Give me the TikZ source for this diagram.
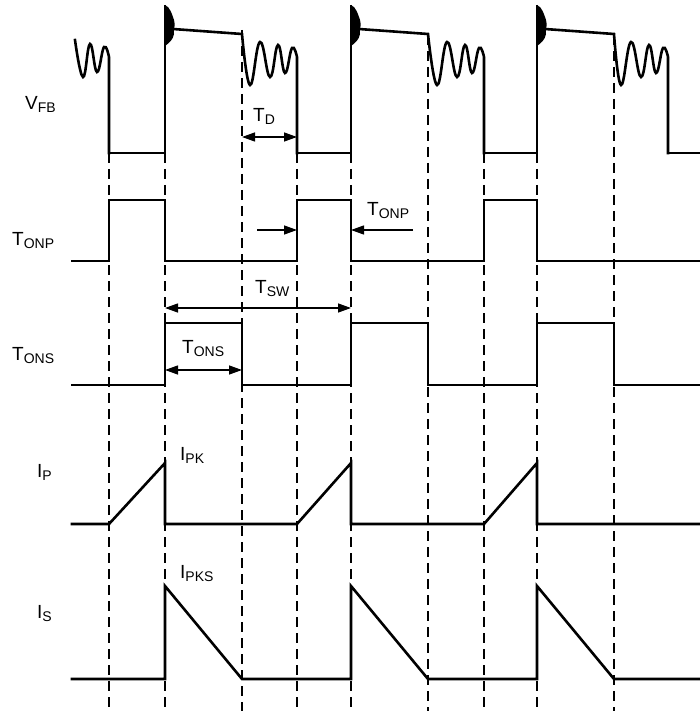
\documentclass[tikz,border=0pt]{standalone}
\usepackage{fontspec}
\setmainfont{Liberation Sans}
\usetikzlibrary{arrows.meta}
\tikzset{
  wave/.style={line width=2.6pt, line cap=rect, line join=miter},
  guide/.style={line width=1.8pt, dash pattern=on 10pt off 6pt},
  dim arrow/.style={line width=1.3pt, -{Triangle[length=13pt,width=9pt]}},
  dim both/.style={line width=1.3pt, {Triangle[length=13pt,width=9pt]}-{Triangle[length=13pt,width=9pt]}},
  sig label/.style={font=\fontsize{19}{21}\selectfont, inner sep=0pt, anchor=base west}
}
\newcommand{\siglbl}[2]{#1\raisebox{-3pt}{\fontsize{14}{14}\selectfont #2}}

\begin{document}
\begin{tikzpicture}[x=1pt, y=-1pt]
    \useasboundingbox (0,0) rectangle (699,711);

    % Timing guides
    \foreach \x/\y in {109/153, 165/153, 242/30, 297/153, 351/153, 428/35, 484/153, 537/153, 614/35}
        \draw[guide] (\x,\y) -- (\x,711);

    % Signal names
    \node[sig label] (vfb) at (25,110) {\siglbl{V}{FB}};
    \node[sig label] (tonp) at (12,245) {\siglbl{T}{ONP}};
    \node[sig label] (tons) at (12,360) {\siglbl{T}{ONS}};
    \node[sig label] (ip) at (37,477) {\siglbl{I}{P}};
    \node[sig label] (is) at (37,618) {\siglbl{I}{S}};

    % V_FB
    \draw[wave] plot[smooth, tension=0.75] coordinates {(75,40) (83,77) (90,44) (97,72) (104,47) (109,57)} -- (109,153);
    \foreach \a/\b/\c/\d in {109/165/242/297, 297/351/428/484, 484/537/614/668}{
        \draw[wave] (\a,153) -- (\b,153) -- (\b,6);
        \fill (\b,5) .. controls (\b+5,7) and (\b+7,14) .. (\b+9,20) .. controls (\b+11,26) and (\b+8,30) .. (\b+9,34)
            .. controls (\b+8,40) and (\b+4,43) .. (\b,46) -- cycle;
        \draw[wave] (\b+8,29) -- (\c,34) -- plot[smooth, tension=0.75] coordinates {(\c,34) (\d-47,85) (\d-37,42) (\d-27,77) (\d-19,45) (\d-12,73) (\d-5,48) (\d,57)} -- (\d,153);
    }
    \draw[wave] (668,153) -- (699,153);

    % T_ONP
    \draw[wave] (72,261) -- (109,261) -- (109,200) -- (165,200) -- (165,261) -- (297,261) -- (297,200) -- (351,200)
        -- (351,261) -- (484,261) -- (484,200) -- (537,200) -- (537,261) -- (699,261);

    % T_ONS
    \draw[wave] (72,385) -- (165,385) -- (165,323) -- (242,323) -- (242,385) -- (351,385) -- (351,323) -- (428,323)
        -- (428,385) -- (537,385) -- (537,323) -- (614,323) -- (614,385) -- (699,385);

    % I_P
    \draw[wave] (72,524) -- (109,524) -- (165,463) -- (165,524) -- (297,524) -- (351,463) -- (351,524)
        -- (484,524) -- (537,463) -- (537,524) -- (699,524);

    % I_S
    \draw[wave] (72,679) -- (165,679) -- (165,586) -- (242,679) -- (351,679) -- (351,586) -- (428,679)
        -- (537,679) -- (537,586) -- (614,679) -- (699,679);

    % Intervals
    \coordinate (td a) at (242,137);
    \coordinate (td b) at (297,137);
    \draw[dim both] (td a) -- (td b);
    \node[sig label] (td) at (253,122) {\siglbl{T}{D}};

    \coordinate (onp l) at (257,230);
    \coordinate (onp a) at (297,230);
    \coordinate (onp b) at (351,230);
    \coordinate (onp r) at (413,230);
    \draw[dim arrow] (onp l) -- (onp a);
    \draw[dim arrow] (onp r) -- (onp b);
    \node[sig label] (tonpw) at (367,215) {\siglbl{T}{ONP}};

    \coordinate (sw a) at (165,308);
    \coordinate (sw b) at (351,308);
    \draw[dim both] (sw a) -- (sw b);
    \node[sig label] (tsw) at (255,293) {\siglbl{T}{SW}};

    \coordinate (ons a) at (165,370);
    \coordinate (ons b) at (242,370);
    \draw[dim both] (ons a) -- (ons b);
    \node[sig label] (tonsw) at (182,353) {\siglbl{T}{ONS}};

    % Peaks
    \node[sig label] (ipk) at (180,460) {\siglbl{I}{PK}};
    \node[sig label] (ipks) at (180,578) {\siglbl{I}{PKS}};
\end{tikzpicture}
\end{document}
